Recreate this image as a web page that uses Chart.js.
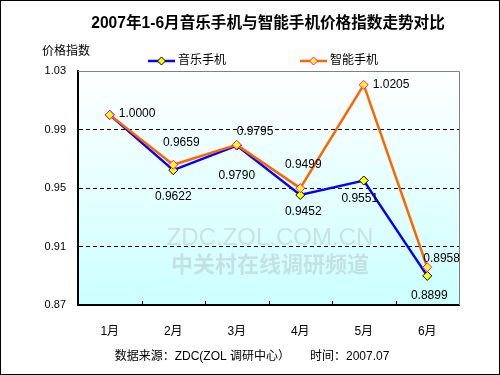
<!DOCTYPE html>
<html lang="zh">
<head>
    <meta charset="UTF-8">
    <title>音乐手机与智能手机价格指数</title>
    <script src="https://cdn.jsdelivr.net/npm/chart.js"></script>
    <style>
        html, body { margin: 0; padding: 0; background: #fff; }
        #wrap { width: 500px; height: 375px; position: relative; }
    </style>
</head>
<body>
    <div id="wrap"><canvas id="myChart" width="500" height="375"></canvas></div>
    <script>
        const months = ['1月', '2月', '3月', '4月', '5月', '6月'];
        const musicPhone = [1.0000, 0.9622, 0.9790, 0.9452, 0.9551, 0.8899];
        const smartPhone = [1.0000, 0.9659, 0.9795, 0.9499, 1.0205, 0.8958];
        const yTicks = [0.87, 0.91, 0.95, 0.99, 1.03];

        const FONT = '"Liberation Sans", Arial, "Noto Sans CJK SC", sans-serif';

        // label offsets [dx, dy, align] per point
        const musicLabelPos = [null, [0, 27, 'center'], [0, 30, 'center'], [3, 17, 'center'], [-4, 18, 'center'], [2, 20, 'center']];
        const smartLabelPos = [[9, -1, 'left'], [8, -22, 'center'], [0, -13, 'left'], [3, -23, 'center'], [9, 0, 'left'], [-4, -9, 'left']];

        const extras = {
            id: 'extras',
            beforeDraw(chart) {
                const { ctx, chartArea: a } = chart;
                ctx.save();
                const g = ctx.createLinearGradient(0, a.top, 0, a.bottom);
                g.addColorStop(0, '#ffffff');
                g.addColorStop(1, '#ccffff');
                ctx.fillStyle = g;
                ctx.fillRect(a.left, a.top, a.right - a.left, a.bottom - a.top);
                ctx.restore();
            },
            beforeDatasetsDraw(chart) {
                const { ctx, chartArea: a } = chart;
                ctx.save();
                // watermark
                ctx.fillStyle = 'rgba(160,160,160,0.3)';
                ctx.textAlign = 'center';
                ctx.textBaseline = 'middle';
                ctx.font = '24px ' + FONT;
                ctx.fillText('ZDC.ZOL.COM.CN', 270, 238);
                ctx.font = 'bold 22px "Noto Sans CJK SC", sans-serif';
                ctx.fillText('中关村在线调研频道', 270, 264);
                // top / right border
                ctx.strokeStyle = '#808080';
                ctx.lineWidth = 1;
                ctx.beginPath();
                ctx.moveTo(a.left, a.top + 0.5);
                ctx.lineTo(a.right + 0.5, a.top + 0.5);
                ctx.lineTo(a.right + 0.5, a.bottom);
                ctx.stroke();
                // small ticks at category boundaries
                const x = chart.scales.x;
                ctx.strokeStyle = '#000';
                ctx.beginPath();
                for (let i = 1; i < months.length; i++) {
                    const px = Math.round((x.getPixelForValue(i - 1) + x.getPixelForValue(i)) / 2) + 0.5;
                    ctx.moveTo(px, a.bottom);
                    ctx.lineTo(px, a.bottom - 4);
                }
                ctx.stroke();
                ctx.restore();
            },
            afterDraw(chart) {
                const { ctx } = chart;
                ctx.save();
                // outer frame
                ctx.strokeStyle = '#000';
                ctx.lineWidth = 1;
                ctx.strokeRect(0.5, 0.5, 499, 374);
                // title
                ctx.fillStyle = '#000';
                ctx.textAlign = 'center';
                ctx.textBaseline = 'middle';
                ctx.font = 'bold 15.6px ' + FONT;
                ctx.fillText('2007年1-6月音乐手机与智能手机价格指数走势对比', 268, 24);
                // y title
                ctx.font = '12px ' + FONT;
                ctx.textAlign = 'left';
                ctx.fillText('价格指数', 42, 52);
                // footer
                ctx.textAlign = 'center';
                ctx.fillText('数据来源：ZDC(ZOL 调研中心）      时间：2007.07', 252, 357);
                // legend
                const items = [
                    { x: 148, label: '音乐手机', color: '#0000ff', border: '#000000' },
                    { x: 300, label: '智能手机', color: '#ff6600', border: '#ff00ff' }
                ];
                items.forEach(it => {
                    const y = 61;
                    ctx.strokeStyle = it.color;
                    ctx.lineWidth = 2.5;
                    ctx.beginPath();
                    ctx.moveTo(it.x, y);
                    ctx.lineTo(it.x + 27, y);
                    ctx.stroke();
                    drawDiamond(ctx, it.x + 13.5, y, 4, '#ffff00', it.border);
                    ctx.fillStyle = '#000';
                    ctx.textAlign = 'left';
                    ctx.font = '12px ' + FONT;
                    ctx.fillText(it.label, it.x + 30, y);
                });
                // data labels
                ctx.font = '12px ' + FONT;
                ctx.fillStyle = '#000';
                ctx.textBaseline = 'middle';
                [[0, musicLabelPos], [1, smartLabelPos]].forEach(([di, pos]) => {
                    const meta = chart.getDatasetMeta(di);
                    const data = chart.data.datasets[di].data;
                    meta.data.forEach((pt, i) => {
                        const p = pos[i];
                        if (!p) return;
                        ctx.textAlign = p[2];
                        ctx.fillText(data[i].toFixed(4), pt.x + p[0], pt.y + p[1]);
                    });
                });
                ctx.restore();
            }
        };

        function drawDiamond(ctx, cx, cy, r, fill, stroke) {
            ctx.beginPath();
            ctx.moveTo(cx, cy - r);
            ctx.lineTo(cx + r, cy);
            ctx.lineTo(cx, cy + r);
            ctx.lineTo(cx - r, cy);
            ctx.closePath();
            ctx.fillStyle = fill;
            ctx.fill();
            ctx.strokeStyle = stroke;
            ctx.lineWidth = 1;
            ctx.stroke();
        }

        const ctx = document.getElementById('myChart').getContext('2d');
        new Chart(ctx, {
            type: 'line',
            data: {
                labels: months,
                datasets: [
                    {
                        label: '音乐手机',
                        data: musicPhone,
                        borderColor: '#0000ff',
                        borderWidth: 2.5,
                        pointStyle: 'rectRot',
                        pointRadius: 4.5,
                        pointBackgroundColor: '#ffff00',
                        pointBorderColor: '#000000',
                        pointBorderWidth: 1,
                        tension: 0,
                        order: 2
                    },
                    {
                        label: '智能手机',
                        data: smartPhone,
                        borderColor: '#ff6600',
                        borderWidth: 2.5,
                        pointStyle: 'rectRot',
                        pointRadius: 4.5,
                        pointBackgroundColor: '#ffff00',
                        pointBorderColor: '#ff00ff',
                        pointBorderWidth: 1,
                        tension: 0,
                        order: 1
                    }
                ]
            },
            options: {
                responsive: false,
                animation: false,
                layout: { padding: { top: 71, right: 41, left: 0, bottom: 0 } },
                plugins: {
                    legend: { display: false },
                    tooltip: { enabled: false }
                },
                scales: {
                    x: {
                        offset: true,
                        grid: { display: false },
                        border: { color: '#000', width: 2 },
                        ticks: {
                            color: '#000',
                            font: { family: FONT, size: 12 },
                            padding: 11,
                            maxRotation: 0
                        },
                        afterFit(scale) { scale.height = 70; }
                    },
                    y: {
                        min: 0.87,
                        max: 1.03,
                        afterBuildTicks(scale) {
                            scale.ticks = yTicks.map(v => ({ value: v }));
                        },
                        grid: {
                            color: c => (c.tick && (c.tick.value === 0.87 || c.tick.value === 1.03)) ? 'rgba(0,0,0,0)' : '#000',
                            lineWidth: 1,
                            tickLength: 0,
                            drawTicks: false
                        },
                        border: { color: '#000', width: 2, dash: [4, 3] },
                        ticks: {
                            color: '#000',
                            font: { family: FONT, size: 11 },
                            padding: 12,
                            callback: v => v.toFixed(2)
                        },
                        afterFit(scale) { scale.width = 78; }
                    }
                }
            },
            plugins: [extras]
        });
    </script>
</body>
</html>
